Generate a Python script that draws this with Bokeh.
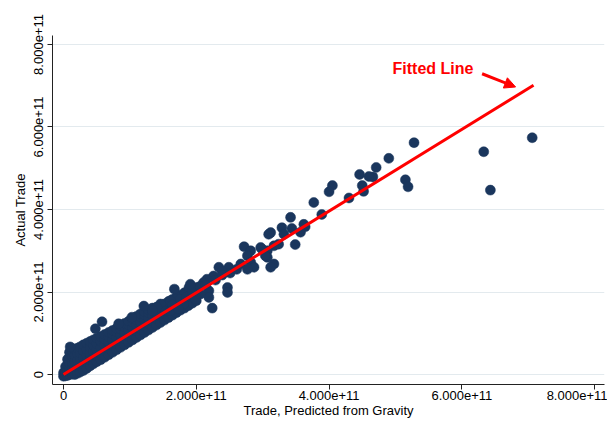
from bokeh.plotting import figure
from bokeh.models import Range1d, FixedTicker, CustomJSTickFormatter, Arrow, NormalHead, Label
from bokeh.embed import file_html
from bokeh.resources import INLINE

# values in billions of dollars
UNIT = 1e9

# sparse / outlying observations: (predicted from gravity, actual trade)
sparse_pred = [706, 633, 643, 528, 490, 471, 466, 515, 519, 446, 460, 450, 452, 405, 400,
               430, 377, 389, 342, 329, 344, 332, 312, 362, 364, 357, 309, 349, 324, 317,
               307, 299, 307, 272, 282, 277, 297, 304, 317, 312, 267, 282, 287, 277, 249,
               234, 239, 247, 247, 226, 216, 211, 219, 219, 224, 167, 189, 196, 181, 171,
               161, 201, 146, 141, 134, 154, 164, 176, 185, 194, 206, 214, 229, 239, 251,
               261, 181, 199, 206, 161, 173, 10, 58, 48, 121, 83, 103, 191]
sparse_actual = [574, 540, 447, 562, 524, 502, 479, 472, 455, 485, 480, 458, 444, 458, 443,
                 428, 417, 388, 381, 356, 354, 340, 344, 364, 358, 345, 340, 315, 316, 312,
                 300, 304, 284, 310, 300, 288, 308, 288, 268, 260, 268, 272, 260, 255, 260,
                 260, 251, 211, 199, 239, 231, 223, 203, 187, 161, 207, 211, 199, 191, 183,
                 179, 211, 171, 163, 155, 154, 169, 183, 188, 200, 214, 217, 229, 241, 246,
                 255, 171, 183, 195, 154, 159, 67, 128, 111, 166, 123, 139, 219]

# dense cluster of small pairs: predicted value, and the actual values seen at it
dense_pred = [0, 3, 6, 9, 13, 17, 21, 25, 30, 35, 40, 45, 50, 56, 62, 68, 74, 80, 86, 92,
              98, 104, 110, 116, 122, 128, 134, 140, 146, 152, 158, 164, 170, 176, 182,
              188, 194, 200]
dense_actual = [
    [-4, 4], [-3, 8, 19], [-2, 11, 24, 37], [0, 13, 27, 42, 54], [1, 15, 29, 45, 58],
    [0, 17, 31, 47, 61], [3, 18, 35, 50, 64], [6, 21, 37, 52, 67], [10, 25, 41, 57, 72],
    [15, 30, 46, 61, 76], [21, 35, 51, 66, 80], [26, 40, 56, 71, 84], [31, 45, 60, 75, 88],
    [36, 51, 66, 80, 92], [42, 57, 72, 86, 97], [48, 63, 78, 92, 102], [54, 69, 84, 98, 107],
    [60, 75, 90, 104, 112], [66, 81, 96, 110, 118], [72, 87, 102, 116, 124],
    [78, 93, 108, 121, 129], [84, 99, 114, 127, 135], [90, 105, 120, 133, 141],
    [96, 111, 126, 139, 147], [102, 117, 132, 145, 152], [108, 123, 138, 150, 157],
    [114, 129, 144, 156, 161], [120, 135, 150, 163], [126, 141, 156, 167],
    [132, 147, 162, 171], [138, 153, 168, 177], [144, 159, 174, 182], [150, 165, 180, 187],
    [156, 171, 185, 192], [161, 176, 191, 198], [167, 182, 197, 204], [173, 188, 203],
    [179, 194, 209]]

# fitted line end points
fit_pred = [0, 708]
fit_actual = [0, 701]

tick_values = [0, 2e11, 4e11, 6e11, 8e11]
note_text = "Fitted Line"

xs, ys = [], []
for xv, col in zip(dense_pred, dense_actual):
    for yv in col:
        xs.append(xv * UNIT)
        ys.append(yv * UNIT)
xs += [v * UNIT for v in sparse_pred]
ys += [v * UNIT for v in sparse_actual]

p = figure(width=607, height=420, output_backend="svg", toolbar_location=None,
           x_range=Range1d(-16.6e9, 814.9e9), y_range=Range1d(-24.1e9, 821.7e9),
           min_border_left=52, min_border_right=3, min_border_top=35, min_border_bottom=34)
p.outline_line_color = None
p.background_fill_color = "white"
p.border_fill_color = "white"

FONT = "Liberation Sans"
fmt = CustomJSTickFormatter(code="return tick == 0 ? '0' : tick.toExponential(3);")
for ax in (p.xaxis[0], p.yaxis[0]):
    ax.ticker = FixedTicker(ticks=tick_values)
    ax.formatter = fmt
    ax.major_tick_out = 5
    ax.major_tick_in = 0
    ax.minor_tick_out = 0
    ax.minor_tick_in = 0
    ax.axis_line_color = "#222222"
    ax.major_tick_line_color = "#222222"
    ax.major_label_text_font = FONT
    ax.major_label_text_font_size = "13px"
    ax.major_label_text_color = "black"
    ax.axis_label_text_font = FONT
    ax.axis_label_text_font_size = "13px"
    ax.axis_label_text_font_style = "normal"
    ax.axis_label_text_color = "black"

p.xaxis.axis_label = "Trade, Predicted from Gravity"
p.yaxis.axis_label = "Actual Trade"
p.yaxis.major_label_orientation = "vertical"
p.xaxis.major_label_standoff = 1
p.yaxis.major_label_standoff = 4
p.xaxis.axis_label_standoff = 0
p.yaxis.axis_label_standoff = 4

p.xgrid.visible = False
p.ygrid.grid_line_color = "#e3eaee"
p.ygrid.grid_line_width = 1

p.scatter(xs, ys, size=10, fill_color="#1a365d", line_color="#1a365d", line_width=0.5)
p.line([v * UNIT for v in fit_pred], [v * UNIT for v in fit_actual],
       line_color="#ff0000", line_width=3)

p.add_layout(Label(x=495.6e9, y=742e9, text=note_text, text_color="#ff0000",
                   text_font="Liberation Sans", text_font_style="bold",
                   text_font_size="16px", text_baseline="middle", text_align="left"))
p.add_layout(Arrow(end=NormalHead(size=11, fill_color="#ff0000", line_color="#ff0000"),
                   x_start=630.5e9, y_start=729e9, x_end=681e9, y_end=697e9,
                   line_color="#ff0000", line_width=3))

open("out.html", "w").write(file_html(p, INLINE))
